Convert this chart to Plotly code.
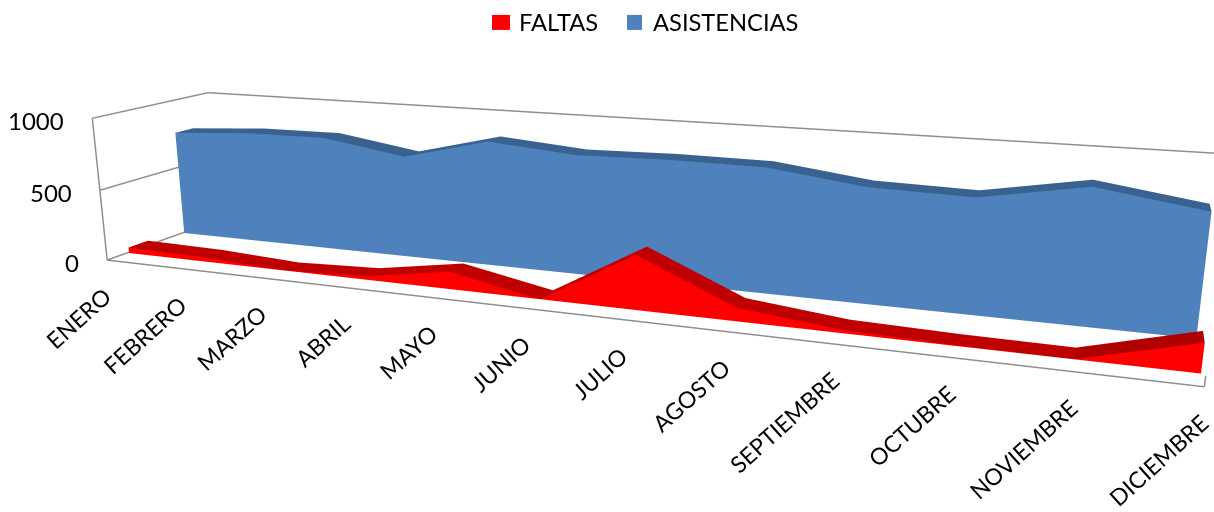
import numpy as np
import plotly.graph_objects as go

meses = ["ENERO","FEBRERO","MARZO","ABRIL","MAYO","JUNIO","JULIO","AGOSTO","SEPTIEMBRE","OCTUBRE","NOVIEMBRE","DICIEMBRE"]
faltas = [40,31,0,22,117,0,351,85,20,5,0,174]
asistencias = [764,800,805,714,860,811,823,819,741,728,841,747]
yticks = [0,500,1000]

W, H = 1214, 512
S = 2.1633                    # the scene is enlarged, then centred in the window, to narrow the field of view
FONT = "Lato"
GRAY = "#8f8f8f"
n, X1, ZT = len(meses), len(meses)-1, yticks[-1]

# depth positions (fractions of the floor depth)
YR, YB, DY = -0.1142, 0.5353, 0.2194
XLF, XRF, YF = -0.0022, 1.0011, -0.3331
XL, XR = XLF*X1, XRF*X1

# camera fitted to the reference's perspective, then re-based on a slightly padded box
ul0, uh0 = np.array([XLF, YF, 0.0]), np.array([XRF, 1.0, 1.0])
AR0 = np.array([3.4047, 0.6083, 0.4829])
EYE0 = np.array([1.4276, -3.7679, 0.9626])
CEN0 = np.array([-0.0218, 0.0259, -0.1517])
UP = [-0.092, 0.2481, 0.9644]
PAD = np.array([0.01, 0.01, 0.02])
ul, uh = ul0-PAD, uh0+PAD
dim = AR0/(uh0-ul0)
shift = ((ul+uh)/2-(ul0+uh0)/2)*dim
nd = (uh-ul)*dim
k = 1/np.prod(nd)**(1/3)
AR, EYE, CEN = nd*k, (EYE0-shift)*k, (CEN0-shift)*k

def mesh(xs, ys, zs, color, facecolor=None):
    i, j, k_ = [], [], []
    for m in range(n-1):
        q = 2*m
        i += [q, q]; j += [q+1, q+3]; k_ += [q+3, q+2]
    extra = dict(facecolor=facecolor) if facecolor else dict(color=color)
    return go.Mesh3d(x=xs, y=ys, z=zs, i=i, j=j, k=k_, showlegend=False, flatshading=True, hoverinfo="skip",
                     lighting=dict(ambient=1, diffuse=0, specular=0, fresnel=0, roughness=1), **extra)

def ribbon(vals, y0, y1, front, top, facecolor=None):
    xs = [m for m in range(n) for _ in (0, 1)]
    return [mesh(xs, [y0]*(2*n), [q for v in vals for q in (0, v)], front),
            mesh(xs, [y0, y1]*n, [v for v in vals for _ in (0, 1)], top, facecolor)]

fig = go.Figure()
red_top = ["#C00000"]*(2*(n-2)) + ["#B00000"]*2
for t in ribbon(faltas, YR, YR+DY, "#FF0000", "#C00000", red_top): fig.add_trace(t)
for t in ribbon(asistencias, YB, YB+DY, "#4F81BD", "#3A6291"): fig.add_trace(t)

frame = [([XL,XL],[YF,YF],[0,ZT]), ([XL,XL],[YF,1],[ZT,ZT]), ([XL,XR],[1,1],[ZT,ZT]),
         ([XL,XL],[YF,1],[0,0]), ([XL,XR],[YF,YF],[0,0]), ([XR,XR],[YF,YF],[0,60]),
         ([XL,XL],[YF,1],[yticks[1],yticks[1]])]
for fx, fy, fz in frame:
    fig.add_trace(go.Scatter3d(x=fx, y=fy, z=fz, mode="lines", line=dict(color=GRAY, width=3), showlegend=False, hoverinfo="skip"))

ann = []
for m, lab in enumerate(meses):
    ann.append(dict(x=XL+(XR-XL)*m/X1, y=YF, z=0, text=lab, showarrow=False, textangle=-42, xanchor="right", yanchor="top",
                    yshift=-19, xshift=12, font=dict(family=FONT, size=23, color="#000")))
for v in yticks:
    ann.append(dict(x=XL, y=YF, z=v, text=str(v), showarrow=False, xanchor="right", yanchor="middle",
                    xshift=-26, yshift=-2, font=dict(family=FONT, size=24, color="#000")))

ax = dict(visible=False, showgrid=False, showbackground=False, zeroline=False, showspikes=False)
FW, FH = W*S, H*S
OX, OY = (FW-W)/2, (FH-H)/2
px = lambda x: (x+OX)/FW
py = lambda y: 1-(y+OY)/FH
fig.update_layout(
    width=FW, height=FH, margin=dict(l=0, r=0, t=0, b=0), paper_bgcolor="white", showlegend=False,
    font=dict(family=FONT, size=23.7, color="#000"),
    scene=dict(
        domain=dict(x=[0,1], y=[0,1]),
        xaxis=dict(range=[ul[0]*X1, uh[0]*X1], **ax),
        yaxis=dict(range=[ul[1], uh[1]], **ax),
        zaxis=dict(range=[ul[2]*ZT, uh[2]*ZT], **ax),
        aspectmode="manual", aspectratio=dict(x=AR[0], y=AR[1], z=AR[2]),
        camera=dict(eye=dict(x=EYE[0], y=EYE[1], z=EYE[2]), center=dict(x=CEN[0], y=CEN[1], z=CEN[2]),
                    up=dict(x=UP[0], y=UP[1], z=UP[2])),
        annotations=ann,
    ),
    shapes=[dict(type="rect", xref="paper", yref="paper", x0=px(492), x1=px(510), y0=py(30), y1=py(15), fillcolor="#FF0000", line_width=0),
            dict(type="rect", xref="paper", yref="paper", x0=px(627), x1=px(642), y0=py(30), y1=py(15), fillcolor="#4F81BD", line_width=0)],
    annotations=[dict(xref="paper", yref="paper", x=px(517), y=py(22), text="FALTAS", showarrow=False, xanchor="left", yanchor="middle"),
                 dict(xref="paper", yref="paper", x=px(651), y=py(22), text="ASISTENCIAS", showarrow=False, xanchor="left", yanchor="middle")],
)
ps = ("var d=document.getElementById('{plot_id}');d.style.position='absolute';d.style.left='-%.1fpx';d.style.top='-%.1fpx';"
      "document.body.style.margin='0';document.body.style.overflow='hidden';document.documentElement.style.overflow='hidden';") % (OX, OY)
fig.write_html("out.html", config=dict(displayModeBar=False), post_script=ps)
